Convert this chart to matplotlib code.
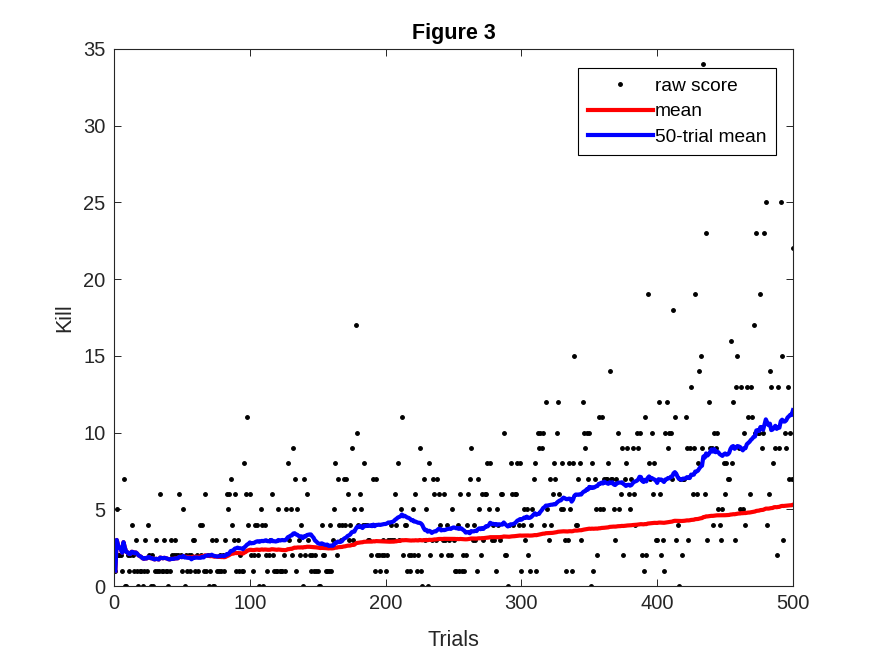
import matplotlib
matplotlib.use('Agg')
import matplotlib.pyplot as plt
import numpy as np

plt.rcParams['font.family'] = ['Liberation Sans', 'DejaVu Sans']

# raw score per trial (trials 1..500)
raw_score = [
    1, 5, 2, 2, 2, 1, 7, 0, 0, 2, 1, 2, 4, 2, 1, 3, 1, 0, 1, 1, 0, 1, 3, 1, 4,
    2, 0, 2, 0, 1, 3, 1, 1, 6, 1, 1, 3, 1, 1, 0, 1, 3, 2, 2, 3, 2, 2, 6, 2, 1,
    5, 0, 2, 1, 2, 1, 2, 3, 3, 1, 2, 1, 4, 2, 4, 1, 6, 1, 2, 0, 1, 3, 0, 0, 3,
    1, 1, 2, 1, 2, 1, 3, 6, 5, 6, 7, 4, 3, 6, 1, 3, 1, 2, 1, 1, 8, 6, 11, 4, 6,
    2, 1, 2, 4, 4, 2, 0, 5, 4, 0, 4, 2, 1, 2, 3, 6, 2, 1, 1, 1, 5, 1, 1, 1, 2,
    1, 5, 8, 3, 5, 2, 9, 7, 1, 5, 3, 2, 4, 0, 7, 2, 6, 3, 2, 1, 2, 1, 2, 1, 1,
    0, 0, 4, 2, 2, 1, 1, 1, 4, 1, 3, 5, 8, 2, 7, 4, 3, 4, 7, 4, 7, 6, 3, 4, 9,
    3, 5, 17, 10, 4, 6, 5, 4, 8, 4, 4, 3, 3, 2, 4, 7, 1, 7, 2, 2, 1, 2, 3, 2, 1,
    2, 3, 3, 4, 3, 3, 6, 4, 8, 3, 5, 11, 2, 4, 4, 1, 2, 1, 2, 5, 2, 6, 1, 2, 9,
    1, 0, 7, 3, 5, 0, 8, 2, 3, 7, 6, 3, 7, 6, 4, 2, 3, 6, 3, 4, 2, 3, 2, 5, 3,
    1, 1, 4, 1, 6, 1, 2, 1, 2, 4, 6, 7, 9, 3, 4, 3, 1, 7, 5, 2, 6, 3, 6, 6, 8,
    5, 8, 3, 4, 3, 1, 5, 4, 3, 6, 6, 10, 2, 2, 0, 4, 8, 6, 4, 6, 6, 8, 4, 8, 1,
    4, 5, 3, 5, 2, 1, 4, 5, 7, 8, 1, 10, 9, 10, 9, 10, 4, 12, 5, 3, 7, 4, 6, 8, 7,
    10, 12, 6, 5, 8, 5, 3, 1, 3, 8, 5, 1, 8, 15, 4, 4, 7, 8, 3, 12, 10, 9, 10, 7, 10,
    0, 8, 1, 7, 5, 2, 11, 5, 11, 5, 7, 7, 7, 8, 14, 7, 7, 5, 3, 7, 10, 5, 6, 9, 2,
    7, 8, 9, 6, 5, 7, 9, 6, 4, 10, 9, 10, 7, 2, 1, 11, 2, 19, 8, 7, 10, 6, 8, 3, 3,
    12, 6, 2, 3, 1, 10, 12, 9, 10, 10, 7, 18, 11, 3, 4, 0, 7, 2, 7, 7, 11, 9, 3, 9, 13,
    6, 9, 19, 6, 8, 14, 15, 9, 34, 6, 23, 3, 12, 9, 9, 4, 10, 9, 10, 5, 4, 3, 5, 8, 6,
    8, 7, 7, 16, 8, 12, 3, 13, 15, 9, 5, 13, 5, 10, 4, 13, 11, 6, 13, 11, 17, 10, 23, 10, 10,
    19, 9, 10, 23, 25, 4, 6, 14, 13, 8, 29, 9, 2, 13, 9, 25, 15, 3, 10, 9, 13, 7, 10, 7, 22,
]
window = 50
x_ticks = [0, 100, 200, 300, 400, 500]
y_ticks = [0, 5, 10, 15, 20, 25, 30, 35]

score = np.array(raw_score, dtype=float)
trials = np.arange(1, len(score) + 1)

# running mean and trailing 50-trial mean
cum_mean = np.cumsum(score) / trials
win_mean = np.array([score[max(0, i - window + 1):i + 1].mean() for i in range(len(score))])

fig = plt.figure(figsize=(8.75, 6.56), dpi=100)
ax = fig.add_axes([114 / 875, 70 / 656, 679 / 875, 537 / 656])

ax.plot(trials, score, '.', color='black', markersize=5, label='raw score')
ax.plot(trials, cum_mean, '-', color='red', linewidth=3, label='mean')
ax.plot(trials, win_mean, '-', color='blue', linewidth=3, label='50-trial mean')

ax.set_xlim(0, 500)
ax.set_ylim(0, 35)
ax.set_xticks(x_ticks)
ax.set_yticks(y_ticks)

axis_grey = '#262626'
ax.tick_params(direction='in', top=True, right=True, length=5, width=0.7,
               colors=axis_grey, labelsize=14.5, labelcolor=axis_grey, pad=6)
for s in ax.spines.values():
    s.set_color(axis_grey)
    s.set_linewidth(0.8)

ax.set_xlabel('Trials', fontsize=15.5, color=axis_grey, labelpad=12)
ax.set_ylabel('Kill', fontsize=15.5, color=axis_grey, labelpad=6)
ax.set_title('Figure 3', fontsize=15.5, fontweight='bold', pad=7)

leg = ax.legend(loc='upper right', bbox_to_anchor=(0.975, 0.965), borderaxespad=0,
                fontsize=13.8, fancybox=False, framealpha=1, edgecolor='black',
                handlelength=3.4, handletextpad=0.1, labelspacing=0.42, borderpad=0.5)
leg.get_frame().set_linewidth(0.8)

fig.savefig('out.png', dpi=100)
